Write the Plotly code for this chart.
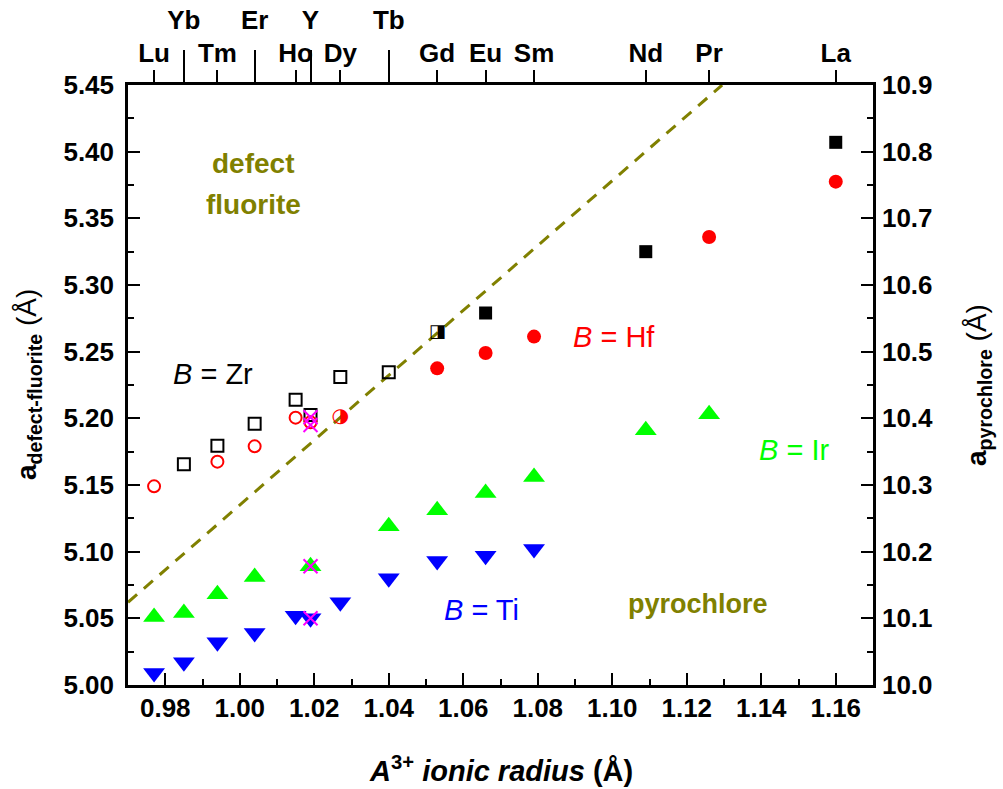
import plotly.graph_objects as go

# ---- data ----
top_lower_names = ["Lu", "Tm", "Ho", "Dy", "Gd", "Eu", "Sm", "Nd", "Pr", "La"]
top_lower_r = [0.977, 0.994, 1.015, 1.027, 1.053, 1.066, 1.079, 1.109, 1.126, 1.160]
top_upper_names = ["Yb", "Er", "Y", "Tb"]
top_upper_r = [0.985, 1.004, 1.019, 1.040]

zr_df_x = [0.985, 0.994, 1.004, 1.015, 1.019, 1.027, 1.040]
zr_df_y = [5.1655, 5.1795, 5.196, 5.214, 5.2025, 5.231, 5.2345]
zr_mix_x = [1.053]
zr_mix_y = [5.2645]
zr_py_x = [1.066, 1.109, 1.160]
zr_py_y = [5.279, 5.325, 5.407]

hf_df_x = [0.977, 0.994, 1.004, 1.015, 1.019]
hf_df_y = [5.149, 5.1675, 5.179, 5.2005, 5.197]
hf_mix_x = [1.027]
hf_mix_y = [5.201]
hf_py_x = [1.053, 1.066, 1.079, 1.126, 1.160]
hf_py_y = [5.2375, 5.249, 5.2613, 5.336, 5.3775]

ir_x = [0.977, 0.985, 0.994, 1.004, 1.019, 1.040, 1.053, 1.066, 1.079, 1.109, 1.126]
ir_y = [5.051, 5.054, 5.068, 5.081, 5.089, 5.119, 5.131, 5.144, 5.156, 5.191, 5.203]

ti_x = [0.977, 0.985, 0.994, 1.004, 1.015, 1.019, 1.027, 1.040, 1.053, 1.066, 1.079]
ti_y = [5.009, 5.017, 5.032, 5.039, 5.052, 5.050, 5.062, 5.080, 5.093, 5.097, 5.102]

cross_x = [1.019, 1.019, 1.019, 1.019]
cross_y = [5.2008, 5.195, 5.089, 5.050]

boundary_x = [0.97, 1.1295]
boundary_y = [5.062, 5.45]

x_ticks = [0.98, 1.00, 1.02, 1.04, 1.06, 1.08, 1.10, 1.12, 1.14, 1.16]

FONT = "Liberation Sans, Arial, sans-serif"
RED, GREEN, BLUE, OLIVE, MAG = "#ff0000", "#00ff00", "#0000ff", "#808000", "#ff00ff"

fig = go.Figure()

fig.add_trace(go.Scatter(x=boundary_x, y=boundary_y, mode="lines",
                         line=dict(color=OLIVE, width=3, dash="12px,9px"), hoverinfo="skip"))

fig.add_trace(go.Scatter(x=zr_df_x, y=zr_df_y, mode="markers",
                         marker=dict(symbol="square-open", size=12, color="black", line=dict(width=2))))
fig.add_trace(go.Scatter(x=zr_mix_x, y=zr_mix_y, mode="text", text=["◨"],
                         textfont=dict(family="DejaVu Sans", size=18, color="black")))
fig.add_trace(go.Scatter(x=zr_py_x, y=zr_py_y, mode="markers",
                         marker=dict(symbol="square", size=13, color="black")))

fig.add_trace(go.Scatter(x=hf_df_x, y=hf_df_y, mode="markers",
                         marker=dict(symbol="circle-open", size=12, color=RED, line=dict(width=2))))
fig.add_trace(go.Scatter(x=hf_mix_x, y=hf_mix_y, mode="text", text=["◑"],
                         textfont=dict(family="DejaVu Sans", size=20, color=RED)))
fig.add_trace(go.Scatter(x=hf_py_x, y=hf_py_y, mode="markers",
                         marker=dict(symbol="circle", size=14, color=RED)))

fig.add_trace(go.Scatter(x=ir_x, y=ir_y, mode="markers",
                         marker=dict(symbol="triangle-up", size=19, color=GREEN)))
fig.add_trace(go.Scatter(x=ti_x, y=ti_y, mode="markers",
                         marker=dict(symbol="triangle-down", size=19, color=BLUE)))

fig.add_trace(go.Scatter(x=cross_x, y=cross_y, mode="markers",
                         marker=dict(symbol="x-thin-open", size=14, color=MAG, line=dict(width=2, color=MAG))))

# empty traces to activate extra axes
fig.add_trace(go.Scatter(x=[], y=[], xaxis="x2", yaxis="y2", hoverinfo="skip"))
fig.add_trace(go.Scatter(x=[], y=[], xaxis="x3", yaxis="y", hoverinfo="skip"))

tickfont = dict(family=FONT, size=26, color="black", weight="bold")
toptickfont = dict(family=FONT, size=26, color="black", weight="bold")

fig.update_layout(
    width=1003, height=789,
    margin=dict(l=128, r=130, t=85, b=104, autoexpand=False),
    paper_bgcolor="white", plot_bgcolor="white",
    showlegend=False,
    xaxis=dict(range=[0.97, 1.17], tickvals=x_ticks, tickformat=".2f", automargin=False,
               ticks="inside", ticklen=12, tickwidth=2, tickcolor="black",
               minor=dict(dtick=0.01, tick0=0.97, ticks="inside", ticklen=6, tickwidth=2, tickcolor="black"),
               showline=True, linewidth=2.5, linecolor="black", showgrid=False, zeroline=False,
               tickfont=tickfont, ticklabelstandoff=-2),
    xaxis2=dict(range=[0.97, 1.17], overlaying="x", side="top", anchor="y", automargin=False,
                tickvals=top_lower_r, ticktext=top_lower_names,
                ticks="outside", ticklen=12, tickwidth=2, tickcolor="black",
                showline=True, linewidth=2.5, linecolor="black", showgrid=False, zeroline=False,
                tickfont=toptickfont, ticklabelstandoff=-2),
    xaxis3=dict(range=[0.97, 1.17], overlaying="x", side="top", anchor="y", automargin=False,
                tickvals=top_upper_r, ticktext=top_upper_names,
                ticks="outside", ticklen=34, tickwidth=2, tickcolor="black",
                showline=False, showgrid=False, zeroline=False,
                tickfont=toptickfont, ticklabelstandoff=11),
    yaxis=dict(range=[5.0, 5.45], dtick=0.05, tick0=5.0, tickformat=".2f", automargin=False,
               ticks="inside", ticklen=12, tickwidth=2, tickcolor="black",
               minor=dict(dtick=0.025, tick0=5.0, ticks="inside", ticklen=6, tickwidth=2, tickcolor="black"),
               showline=True, linewidth=2.5, linecolor="black", showgrid=False, zeroline=False,
               tickfont=tickfont, ticklabelstandoff=6),
    yaxis2=dict(range=[10.0, 10.9], dtick=0.1, tick0=10.0, tickformat=".1f",
                overlaying="y", side="right", anchor="x", automargin=False,
                ticks="inside", ticklen=12, tickwidth=2, tickcolor="black",
                minor=dict(dtick=0.05, tick0=10.0, ticks="inside", ticklen=6, tickwidth=2, tickcolor="black"),
                showline=True, linewidth=2.5, linecolor="black", showgrid=False, zeroline=False,
                tickfont=tickfont, ticklabelstandoff=1),
)

ann_font = dict(family=FONT, size=29)
annotations = [
    dict(x=0.99293, y=5.2333, text="<i>B</i> = Zr", font=dict(ann_font, color="black")),
    dict(x=1.10053, y=5.2612, text="<i>B</i> = Hf", font=dict(ann_font, color=RED)),
    dict(x=1.14867, y=5.1763, text="<i>B</i> = Ir", font=dict(ann_font, color=GREEN)),
    dict(x=1.06493, y=5.0566, text="<i>B</i> = Ti", font=dict(ann_font, color=BLUE)),
    dict(x=1.0036, y=5.3915, text="<b>defect</b>", font=dict(family=FONT, size=28, color=OLIVE)),
    dict(x=1.0036, y=5.3607, text="<b>fluorite</b>", font=dict(family=FONT, size=28, color=OLIVE)),
    dict(x=1.12307, y=5.0607, text="<b>pyrochlore</b>", font=dict(family=FONT, size=27, color=OLIVE)),
]
for a in annotations:
    a.update(xref="x", yref="y", showarrow=False, xanchor="center", yanchor="middle")
    fig.add_annotation(**a)

# axis titles
fig.add_annotation(xref="paper", yref="paper", x=0.5, y=(685 - 769) / 600,
                   text="<b><i>A</i><sup>3+</sup> <i>ionic radius</i> (Å)</b>",
                   font=dict(family=FONT, size=29, color="black"), showarrow=False,
                   xanchor="center", yanchor="middle")
fig.add_annotation(xref="paper", yref="paper", x=(28 - 128) / 745, y=0.5, textangle=-90,
                   text="<b>a</b><sub><b>defect-fluorite</b></sub> (Å)",
                   font=dict(family=FONT, size=28, color="black"), showarrow=False,
                   xanchor="center", yanchor="middle")
fig.add_annotation(xref="paper", yref="paper", x=(978 - 128) / 745, y=0.5, textangle=-90,
                   text="<b>a</b><sub><b>pyrochlore</b></sub> (Å)",
                   font=dict(family=FONT, size=28, color="black"), showarrow=False,
                   xanchor="center", yanchor="middle")

fig.write_html("out.html")
